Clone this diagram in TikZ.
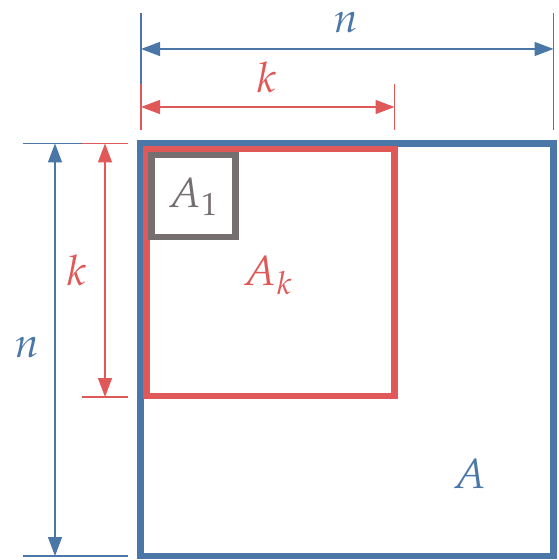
\documentclass[tikz,border=0pt]{standalone}
\usepackage{mathpazo}
\usetikzlibrary{arrows.meta,calc}
\definecolor{dimblue}{HTML}{4A76A8}
\definecolor{dimred}{HTML}{E05858}
\definecolor{boxgray}{HTML}{766F6F}
\tikzset{
  dimline/.style={line width=0.65pt},
  dimarrow/.style={dimline,{Triangle[length=9.5pt,width=7pt]}-{Triangle[length=9.5pt,width=7pt]}},
  lbl/.style={font=\fontsize{21}{25}\selectfont, inner sep=0pt}
}
\begin{document}
\begin{tikzpicture}[x=0.5pt,y=-0.5pt]
  \useasboundingbox (0,0) rectangle (558,560);
  % corners of the three blocks
  \coordinate (nTL) at (140.5,143.5); \coordinate (nBR) at (553.5,556);
  \coordinate (kTL) at (146.5,149);   \coordinate (kBR) at (394.5,396);
  \coordinate (oTL) at (151.5,155);   \coordinate (oBR) at (235.5,237);
  % extension lines
  \coordinate (nx1) at (141,13);  \coordinate (nx1e) at (141,130);
  \coordinate (nx2) at (553.5,13); \coordinate (nx2e) at (553.5,130);
  \coordinate (ny1) at (23,143.5); \coordinate (ny1e) at (128,143.5);
  \coordinate (ny2) at (23,556);   \coordinate (ny2e) at (128,556);
  \coordinate (kx1) at (141,84);   \coordinate (kx2) at (394.5,84);
  \coordinate (kx2e) at (394.5,130);
  \coordinate (ky1) at (82,143.5); \coordinate (ky2) at (82,397);
  \coordinate (ky2e) at (128,397);
  \draw[dimblue,dimline] (nx1) -- (nx1e) (nx2) -- (nx2e) (ny1) -- (ny1e) (ny2) -- (ny2e);
  \draw[dimred,dimline] (kx1) -- (nx1e) (kx2) -- (kx2e) (ky1) -- (ny1e) (ky2) -- (ky2e);
  % dimension arrows
  \coordinate (na1) at (141,49);  \coordinate (na2) at (553.5,49);
  \coordinate (ka1) at (141,107); \coordinate (ka2) at (394.5,107);
  \coordinate (nb1) at (55,143.5); \coordinate (nb2) at (55,556);
  \coordinate (kb1) at (105,143.5); \coordinate (kb2) at (105,397);
  \draw[dimblue,dimarrow] (na1) -- (na2);
  \draw[dimblue,dimarrow] (nb1) -- (nb2);
  \draw[dimred,dimarrow] (ka1) -- (ka2);
  \draw[dimred,dimarrow] (kb1) -- (kb2);
  \node[lbl,dimblue] (ntop) at (346,23) {$n$};
  \node[lbl,dimred] (ktop) at (267,77) {$k$};
  \node[lbl,dimred] (kleft) at (77,270) {$k$};
  \node[lbl,dimblue] (nleft) at (27,348) {$n$};
  % blocks
  \draw[dimblue,line width=3.3pt] (nTL) rectangle (nBR);
  \draw[dimred,line width=3.3pt] (kTL) rectangle (kBR);
  \draw[boxgray,line width=3.4pt] (oTL) rectangle (oBR);
  \node[lbl,boxgray] (Aone) at (193,197) {$A_1$};
  \node[lbl,dimred] (Ak) at (268,275) {$A_k$};
  \node[lbl,dimblue] (Abig) at (470,474) {$A$};
\end{tikzpicture}
\end{document}
